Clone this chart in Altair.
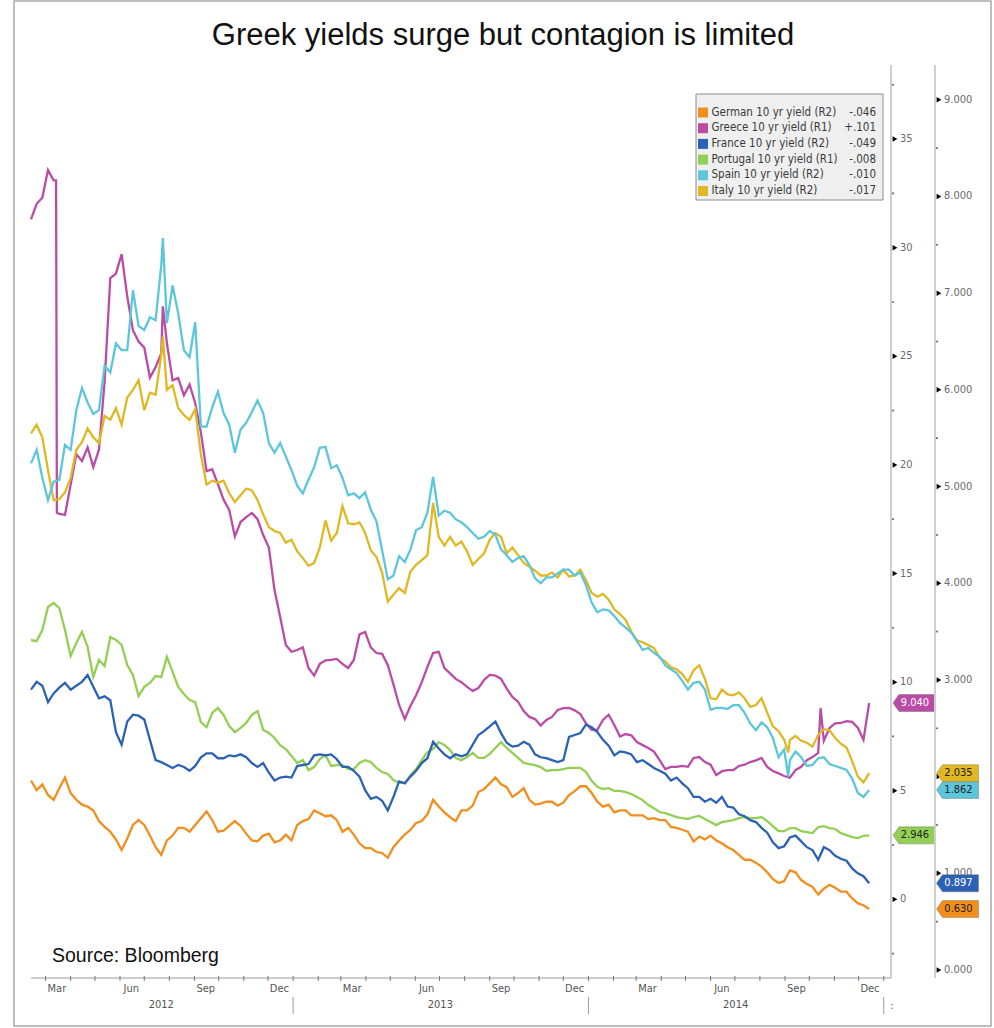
import altair as alt
import pandas as pd

# ---------------- data ----------------
# two interleaved reading grids: every 14 days, and the days half-way between them
dates = pd.date_range("2012-02-12", periods=75, freq="14D")
dates_mid = pd.date_range("2012-02-19", periods=74, freq="14D")

series_keys = ["German", "Greece", "France", "Portugal", "Spain", "Italy"]
legend_labels = ["German 10 yr yield (R2)", "Greece 10 yr yield (R1)", "France 10 yr yield (R2)",
                 "Portugal 10 yr yield (R1)", "Spain 10 yr yield (R2)", "Italy 10 yr yield (R2)"]
legend_values = ["-.046", "+.101", "-.049", "-.008", "-.010", "-.017"]
series_axis = ["R2", "R1", "R2", "R1", "R2", "R2"]
colors = ["#f28e1e", "#bb4ca6", "#2c62b6", "#93cf55", "#5cc6da", "#dfb823"]
tag_text_colors = ["#222222", "#ffffff", "#ffffff", "#222222", "#222222", "#222222"]

german = [1.96, 1.92, 1.76, 1.99, 1.76, 1.69, 1.54, 1.43, 1.24, 1.50,
          1.50, 1.27, 1.34, 1.47, 1.43, 1.57, 1.55, 1.44, 1.54, 1.41,
          1.33, 1.41, 1.34, 1.34, 1.54, 1.65, 1.59, 1.55, 1.47, 1.31,
          1.26, 1.21, 1.27, 1.40, 1.52, 1.61, 1.69, 1.58, 1.65, 1.70,
          1.87, 1.99, 1.89, 1.83, 1.76, 1.72, 1.74, 1.73, 1.85, 1.90,
          1.74, 1.71, 1.65, 1.60, 1.60, 1.57, 1.55, 1.47, 1.43, 1.38,
          1.39, 1.31, 1.24, 1.14, 1.11, 1.01, 0.90, 1.03, 0.93, 0.86,
          0.84, 0.85, 0.81, 0.69, 0.630]
german_mid = [1.86, 1.81, 1.88, 1.83, 1.71, 1.65, 1.48, 1.35, 1.36, 1.55,
              1.39, 1.19, 1.39, 1.47, 1.50, 1.64, 1.43, 1.49, 1.49, 1.34,
              1.39, 1.32, 1.40, 1.50, 1.56, 1.62, 1.60, 1.43, 1.40, 1.26,
              1.22, 1.16, 1.34, 1.45, 1.54, 1.76, 1.63, 1.54, 1.65, 1.84,
              1.93, 1.92, 1.79, 1.88, 1.71, 1.74, 1.70, 1.81, 1.90, 1.83,
              1.69, 1.63, 1.65, 1.60, 1.56, 1.55, 1.48, 1.45, 1.33, 1.35,
              1.34, 1.27, 1.19, 1.14, 1.07, 0.94, 0.92, 1.01, 0.89, 0.78,
              0.88, 0.81, 0.74, 0.67]
greece = [31.3, 32.3, 33.1, 17.7, 20.5, 20.8, 20.7, 28.6, 29.7, 26.2,
          25.4, 24.5, 25.6, 24.0, 23.7, 21.5, 19.8, 18.4, 16.7, 17.6,
          17.5, 16.2, 13.0, 11.4, 11.6, 10.3, 11.0, 11.07, 10.65, 12.2,
          11.6, 11.3, 9.9, 8.3, 9.4, 10.7, 11.4, 10.4, 10.0, 9.6,
          10.1, 10.3, 9.7, 9.1, 8.4, 8.0, 8.4, 8.8, 8.7, 8.1,
          7.8, 8.5, 7.5, 7.55, 7.1, 6.8, 6.0, 6.1, 6.1, 6.55,
          6.2, 5.9, 5.95, 6.2, 6.4, 6.1, 5.8, 5.6, 6.1, 6.55,
          7.3, 8.1, 8.2, 7.9, 9.040]
greece_mid = [32.02, 33.57, 17.74, 19.08, 20.18, 19.9, 23.84, 28.81, 27.75, 25.68,
              24.02, 25.13, 23.89, 23.2, 22.84, 19.71, 19.12, 17.93, 17.37, 17.79,
              16.77, 14.24, 11.71, 11.48, 10.65, 10.84, 11.02, 10.84, 11.02, 12.31,
              11.34, 10.79, 8.95, 8.9, 10.0, 11.34, 10.65, 10.15, 9.78, 9.73,
              10.33, 10.15, 9.32, 8.67, 8.3, 8.26, 8.72, 8.81, 8.53, 7.8,
              8.26, 8.03, 7.61, 7.24, 6.97, 6.41, 6.1, 6.14, 6.51, 6.32,
              5.72, 5.95, 6.14, 6.32, 6.51, 5.91, 5.68, 5.95, 6.41, 6.74,
              7.89, 8.12, 8.17, 7.34]
france = [2.90, 2.94, 2.86, 2.97, 2.94, 3.05, 2.81, 2.79, 2.33, 2.64,
          2.59, 2.17, 2.12, 2.12, 2.06, 2.20, 2.24, 2.19, 2.21, 2.20,
          2.10, 2.04, 1.99, 1.99, 2.12, 2.22, 2.22, 2.18, 2.10, 2.00,
          1.77, 1.75, 1.79, 1.93, 2.06, 2.19, 2.29, 2.19, 2.21, 2.33,
          2.47, 2.57, 2.35, 2.32, 2.33, 2.20, 2.17, 2.17, 2.43, 2.54,
          2.46, 2.32, 2.26, 2.23, 2.17, 2.09, 2.03, 1.99, 1.88, 1.79,
          1.77, 1.79, 1.68, 1.59, 1.53, 1.42, 1.26, 1.37, 1.33, 1.24,
          1.27, 1.18, 1.13, 1.00, 0.897]
france_mid = [2.98, 2.77, 2.92, 2.90, 2.98, 2.93, 2.83, 2.46, 2.57, 2.63,
              2.38, 2.15, 2.09, 2.10, 2.11, 2.24, 2.19, 2.22, 2.23, 2.14,
              2.14, 1.96, 2.00, 2.11, 2.13, 2.23, 2.23, 2.10, 2.06, 1.86,
              1.79, 1.65, 1.95, 2.00, 2.14, 2.36, 2.23, 2.23, 2.23, 2.43,
              2.52, 2.45, 2.31, 2.36, 2.23, 2.19, 2.15, 2.41, 2.45, 2.51,
              2.38, 2.22, 2.25, 2.15, 2.13, 2.06, 1.96, 1.93, 1.79, 1.74,
              1.73, 1.69, 1.61, 1.55, 1.47, 1.32, 1.28, 1.39, 1.27, 1.14,
              1.24, 1.15, 1.05, 0.97]
portugal = [11.94, 12.4, 13.64, 12.4, 11.8, 11.62, 11.02, 12.08, 11.71, 10.33,
            9.78, 10.28, 11.16, 9.78, 9.18, 8.16, 8.58, 8.49, 7.7, 8.12,
            8.67, 7.66, 7.1, 6.6, 6.41, 6.09, 6.64, 6.18, 6.0, 6.28,
            6.32, 5.86, 5.49, 5.36, 6.0, 6.78, 7.24, 6.87, 6.41, 6.74,
            6.51, 6.97, 6.97, 6.51, 6.23, 6.09, 5.95, 6.0, 6.05, 5.86,
            5.18, 5.12, 4.99, 4.85, 4.57, 4.2, 3.97, 3.79, 3.7, 3.84,
            3.56, 3.56, 3.65, 3.79, 3.74, 3.6, 3.14, 3.28, 3.14, 3.05,
            3.37, 3.24, 2.96, 2.82, 2.946]
portugal_mid = [11.89, 13.46, 13.41, 11.2, 12.31, 10.24, 10.74, 11.94, 10.79, 9.36,
                9.96, 10.24, 10.47, 9.45, 9.08, 7.93, 8.81, 7.98, 7.89, 8.49,
                7.8, 7.43, 6.92, 6.28, 5.95, 6.46, 6.14, 6.18, 6.0, 6.41,
                6.05, 5.77, 5.36, 5.72, 6.41, 6.92, 7.11, 6.51, 6.55, 6.51,
                6.7, 7.24, 6.74, 6.28, 6.18, 5.91, 5.95, 6.05, 6.05, 5.46,
                5.08, 4.99, 4.94, 4.71, 4.34, 4.02, 3.88, 3.74, 3.79, 3.7,
                3.42, 3.6, 3.74, 3.74, 3.79, 3.37, 3.14, 3.28, 3.1, 3.33,
                3.28, 3.05, 2.87, 2.92]
spain = [5.24, 5.09, 5.05, 5.43, 5.79, 5.87, 5.79, 6.18, 6.41, 7.03,
         6.62, 6.72, 6.69, 6.79, 6.34, 5.62, 5.82, 5.76, 5.35, 5.66,
         5.89, 5.45, 5.45, 5.17, 4.93, 5.20, 5.41, 5.22, 4.91, 4.88,
         4.76, 4.34, 4.08, 4.22, 4.55, 4.73, 4.70, 4.73, 4.63, 4.52,
         4.48, 4.50, 4.29, 4.26, 4.19, 4.00, 4.06, 4.14, 4.08, 3.98,
         3.70, 3.72, 3.59, 3.49, 3.31, 3.28, 3.15, 3.07, 2.90, 2.98,
         2.69, 2.71, 2.74, 2.66, 2.48, 2.51, 2.20, 2.17, 2.20, 2.12,
         2.20, 2.11, 2.07, 1.83, 1.862]
spain_mid = [5.38, 4.86, 5.07, 5.38, 6.02, 5.75, 6.25, 6.48, 6.41, 6.66,
             6.75, 7.29, 7.08, 6.41, 6.70, 5.62, 5.98, 5.64, 5.59, 5.77,
             5.76, 5.35, 5.31, 5.01, 5.07, 5.40, 5.19, 5.09, 4.93, 4.94,
             4.64, 4.04, 4.28, 4.35, 4.58, 5.10, 4.75, 4.66, 4.58, 4.46,
             4.54, 4.35, 4.22, 4.28, 4.05, 4.06, 4.10, 4.14, 4.11, 3.80,
             3.73, 3.66, 3.54, 3.40, 3.33, 3.24, 3.11, 2.99, 2.97, 2.90,
             2.71, 2.70, 2.74, 2.55, 2.56, 2.40, 2.28, 2.26, 2.11, 2.19,
             2.13, 2.09, 1.98, 1.79]
italy = [5.55, 5.51, 4.86, 4.94, 5.38, 5.60, 5.45, 5.69, 5.64, 6.00,
         5.79, 5.95, 6.00, 5.81, 5.69, 5.33, 5.06, 5.06, 4.84, 4.98,
         4.86, 4.58, 4.52, 4.45, 4.26, 4.21, 4.65, 4.52, 4.62, 4.63,
         4.34, 4.11, 3.88, 3.90, 4.19, 4.29, 4.48, 4.48, 4.43, 4.19,
         4.31, 4.52, 4.31, 4.29, 4.17, 4.08, 4.11, 4.14, 4.08, 4.03,
         3.86, 3.83, 3.68, 3.50, 3.39, 3.33, 3.19, 3.11, 2.98, 3.15,
         2.81, 2.90, 2.84, 2.81, 2.74, 2.66, 2.47, 2.38, 2.37, 2.31,
         2.49, 2.40, 2.30, 2.00, 2.035]
italy_mid = [5.64, 5.17, 4.87, 5.09, 5.46, 5.51, 5.73, 5.81, 5.92, 6.10,
             5.97, 6.36, 6.05, 5.74, 5.80, 5.02, 5.04, 4.93, 4.91, 4.96,
             4.71, 4.54, 4.42, 4.33, 4.18, 4.37, 4.44, 4.80, 4.61, 4.52,
             4.27, 3.81, 3.95, 4.12, 4.24, 4.83, 4.39, 4.39, 4.33, 4.25,
             4.45, 4.48, 4.37, 4.21, 4.13, 4.08, 4.06, 4.07, 4.14, 3.90,
             3.89, 3.73, 3.62, 3.41, 3.36, 3.23, 3.13, 3.06, 3.10, 3.01,
             2.80, 2.85, 2.87, 2.72, 2.81, 2.52, 2.38, 2.42, 2.35, 2.43,
             2.48, 2.34, 2.16, 1.94]

# extra readings at sharp moves
greece_extra = {"2012-03-14": 33.1, "2012-03-15": 17.8, "2012-07-24": 27.3, "2014-10-15": 8.8}
spain_extra = {"2012-07-24": 7.57, "2014-09-05": 2.00}
italy_extra = {"2012-07-24": 6.55, "2014-09-05": 2.25}

r1_major = [0, 5, 10, 15, 20, 25, 30, 35]
r1_minor = [-2.5, 2.5, 7.5, 12.5, 17.5, 22.5, 27.5, 32.5, 37.5]
r2_major = [0, 1, 2, 3, 4, 5, 6, 7, 8, 9]
r2_minor = [0.5, 1.5, 2.5, 3.5, 4.5, 5.5, 6.5, 7.5, 8.5]

month_label_dates = ["2012-03-15", "2012-06-15", "2012-09-15", "2012-12-15",
                     "2013-03-15", "2013-06-15", "2013-09-15", "2013-12-15",
                     "2014-03-15", "2014-06-15", "2014-09-15", "2014-12-15"]
month_label_text = ["Mar", "Jun", "Sep", "Dec"] * 3
year_label_dates = ["2012-07-22", "2013-07-02", "2014-07-02"]
year_label_text = ["2012", "2013", "2014"]
year_sep_dates = ["2013-01-01", "2014-01-01", "2015-01-01"]
month_tick_dates = pd.date_range("2012-03-01", "2015-01-01", freq="MS")

# ---------------- build tables ----------------
all_vals = [german, greece, france, portugal, spain, italy]
all_mid = [german_mid, greece_mid, france_mid, portugal_mid, spain_mid, italy_mid]
all_extra = [{}, greece_extra, {}, {}, spain_extra, italy_extra]
rows = []
for key, ax, vals, mids, extra in zip(series_keys, series_axis, all_vals, all_mid, all_extra):
    for d, v in zip(dates, vals):
        rows.append({"date": d, "value": v, "series": key, "axis": ax})
    for d, v in zip(dates_mid, mids):
        rows.append({"date": d, "value": v, "series": key, "axis": ax})
    for ds, v in extra.items():
        rows.append({"date": pd.Timestamp(ds), "value": v, "series": key, "axis": ax})
df = pd.DataFrame(rows).sort_values(["series", "date"]).reset_index(drop=True)

# ---------------- layout constants ----------------
W, H = 860, 913
FONT = "DejaVu Sans Condensed, Liberation Sans Narrow, DejaVu Sans, sans-serif"
TAG = "M-1,0L-0.714,-0.405L1,-0.405L1,0.405L-0.714,0.405Z"

xs = alt.Scale(domain=[alt.DateTime(year=2012, month=2, date=12),
                       alt.DateTime(year=2015, month=1, date=10)])
r1s = alt.Scale(domain=[-3.62, 38.41], nice=False, zero=False)
r2s = alt.Scale(domain=[-0.083, 9.36], nice=False, zero=False)
cs = alt.Scale(domain=series_keys, range=colors)

one = pd.DataFrame({"k": [0]})


def value_group(axis_name, yscale, major, minor, fmt, axis_px, tag_cx):
    sub = df[df["axis"] == axis_name]
    domain_line = alt.Chart(one).mark_rule(color="#cfcfcf", strokeWidth=2).encode(
        x=alt.value(axis_px), y=alt.value(0), y2=alt.value(H))
    labels = alt.Chart(pd.DataFrame({"v": major})).mark_text(
        font=FONT, fontSize=11, color="#6a6a6a", align="left", baseline="middle"
    ).encode(x=alt.value(axis_px + 9), y=alt.Y("v:Q", scale=yscale, axis=None),
             text=alt.Text("v:Q", format=fmt))
    lines = alt.Chart(sub).mark_line(strokeWidth=2.3).encode(
        x=alt.X("date:T", scale=xs, axis=None),
        y=alt.Y("value:Q", scale=yscale, axis=None),
        color=alt.Color("series:N", scale=cs, legend=None),
    )
    tri = alt.Chart(pd.DataFrame({"v": major})).mark_point(
        shape="triangle-right", filled=True, size=30, color="#000000", opacity=1
    ).encode(x=alt.value(axis_px + 4), y=alt.Y("v:Q", scale=yscale, axis=None))
    dots = alt.Chart(pd.DataFrame({"v": minor})).mark_circle(
        size=5, color="#777777", opacity=1
    ).encode(x=alt.value(axis_px + 2), y=alt.Y("v:Q", scale=yscale, axis=None))
    layers = [domain_line, labels, lines, tri, dots]
    for key, ax, vals, col, tcol in zip(series_keys, series_axis, all_vals, colors, tag_text_colors):
        if ax != axis_name:
            continue
        last = vals[-1]
        tdf = pd.DataFrame({"value": [last], "label": [f"{last:.3f}"]})
        layers.append(alt.Chart(tdf).mark_point(
            shape=TAG, filled=True, size=1764, color=col, opacity=1,
            stroke="#555555", strokeOpacity=0.35, strokeWidth=1
        ).encode(x=alt.value(tag_cx), y=alt.Y("value:Q", scale=yscale, axis=None)))
        layers.append(alt.Chart(tdf).mark_text(
            font=FONT, fontSize=11, align="center", baseline="middle", color=tcol
        ).encode(x=alt.value(tag_cx + 1), y=alt.Y("value:Q", scale=yscale, axis=None), text="label:N"))
    return alt.layer(*layers)


r1_group = value_group("R1", r1s, r1_major, r1_minor, "d", W, W + 23)
r2_group = value_group("R2", r2s, r2_major, r2_minor, ".3f", W + 44, W + 66.5)

# ---------------- x axis ----------------
mdf = pd.DataFrame({"d": [s + "T00:00:00" for s in month_label_dates], "t": month_label_text})
ydf = pd.DataFrame({"d": [s + "T00:00:00" for s in year_label_dates], "t": year_label_text})
sdf = pd.DataFrame({"d": [s + "T00:00:00" for s in year_sep_dates]})
tdf_m = pd.DataFrame({"d": month_tick_dates})
x_line = alt.Chart(one).mark_rule(color="#9a9a9a", strokeWidth=1).encode(
    x=alt.value(0), x2=alt.value(W), y=alt.value(H))
x_ticks = alt.Chart(tdf_m).mark_rule(color="#777777", strokeWidth=1).encode(
    x=alt.X("d:T", scale=xs, axis=None), y=alt.value(H - 2), y2=alt.value(H + 3))
month_lbl = alt.Chart(mdf).mark_text(font=FONT, fontSize=11, color="#555555", baseline="middle").encode(
    x=alt.X("d:T", scale=xs, axis=None), y=alt.value(H + 11), text="t:N")
year_lbl = alt.Chart(ydf).mark_text(font=FONT, fontSize=11, color="#555555", baseline="middle").encode(
    x=alt.X("d:T", scale=xs, axis=None), y=alt.value(H + 27), text="t:N")
year_sep = alt.Chart(sdf).mark_rule(color="#9a9a9a", strokeWidth=1).encode(
    x=alt.X("d:T", scale=xs, axis=None), y=alt.value(H + 19), y2=alt.value(H + 36))
colon = alt.Chart(one).mark_text(text=":", font=FONT, fontSize=11, color="#555555",
                                 baseline="middle").encode(x=alt.value(W + 1), y=alt.value(H + 28))
xaxis = alt.layer(x_line, x_ticks, month_lbl, year_lbl, year_sep, colon)

# ---------------- legend box ----------------
leg_layers = [alt.Chart(one).mark_rect(fill="#efefef", stroke="#8c8c8c", strokeWidth=1).encode(
    x=alt.value(665), x2=alt.value(852), y=alt.value(29), y2=alt.value(135))]
for i, (lab, val, col) in enumerate(zip(legend_labels, legend_values, colors)):
    yy = 47.5 + 15.7 * i
    leg_layers.append(alt.Chart(one).mark_square(size=100, color=col, opacity=1).encode(
        x=alt.value(672), y=alt.value(yy)))
    leg_layers.append(alt.Chart(one).mark_text(text=lab, font=FONT, fontSize=11.5, color="#3a3a3a",
                                               align="left", baseline="middle").encode(
        x=alt.value(680.5), y=alt.value(yy)))
    leg_layers.append(alt.Chart(one).mark_text(text=val, font=FONT, fontSize=11.5, color="#3a3a3a",
                                               align="right", baseline="middle").encode(
        x=alt.value(845), y=alt.value(yy)))
legend = alt.layer(*leg_layers)

# ---------------- frame, title, source ----------------
frame = alt.Chart(one).mark_rect(filled=False, color="#a8a8a8", strokeWidth=1.5).encode(
    x=alt.value(-17), x2=alt.value(960), y=alt.value(-64), y2=alt.value(961))
title = alt.Chart(one).mark_text(text="Greek yields surge but contagion is limited", font="Liberation Sans",
                                 fontSize=31, color="#111111", align="center",
                                 baseline="alphabetic").encode(x=alt.value(472), y=alt.value(-20))
source = alt.Chart(one).mark_text(text="Source: Bloomberg", font="Liberation Sans", fontSize=19.5,
                                  color="#111111", align="left", baseline="alphabetic").encode(
    x=alt.value(21), y=alt.value(897))

chart = alt.layer(frame, xaxis, r1_group, r2_group, legend, title, source).resolve_scale(
    y="independent"
).properties(
    width=W, height=H,
    autosize=alt.AutoSizeParams(type="none"),
    padding={"left": 31, "top": 65, "right": 103, "bottom": 50},
    background="white",
).configure_view(stroke=None)

chart.save("out.html", embed_options={"renderer": "svg", "actions": False})
